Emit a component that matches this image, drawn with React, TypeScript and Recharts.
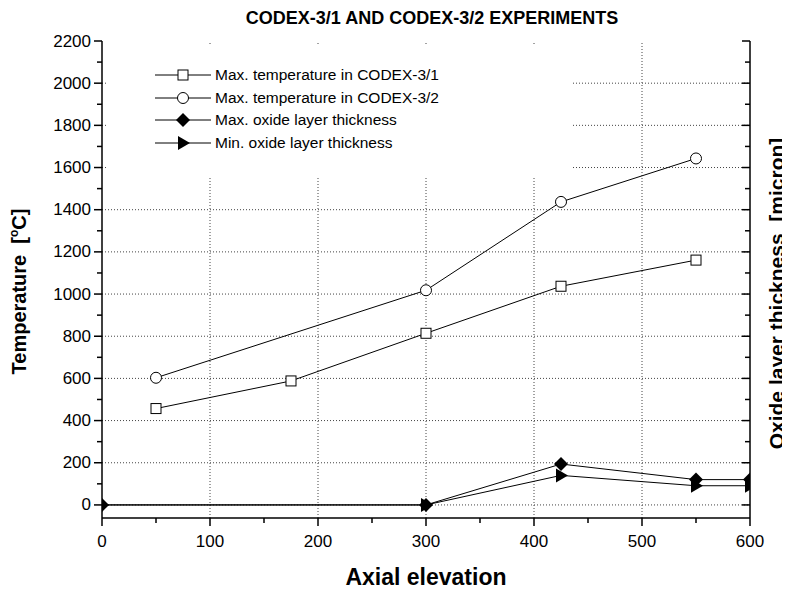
import React from 'react';
import { LineChart, Line, XAxis, YAxis, ReferenceLine } from 'recharts';

// ---- data ----
const sq31X = [50, 175, 300, 425, 550];
const sq31Y = [457, 588, 814, 1037, 1161];
const ci32X = [50, 300, 425, 550];
const ci32Y = [603, 1018, 1437, 1643];
const oxX = [0, 300, 425, 550, 600];
const oxMaxY = [0, 0, 194, 120, 120];
const oxMinY = [0, 0, 140, 91, 91];

const xTicks = [0, 50, 100, 150, 200, 250, 300, 350, 400, 450, 500, 550, 600];
const yTicks = [0, 100, 200, 300, 400, 500, 600, 700, 800, 900, 1000, 1100, 1200, 1300, 1400, 1500, 1600, 1700, 1800, 1900, 2000, 2100, 2200];
const xGrid = [100, 200, 300, 400, 500];
const yGrid = [0, 200, 400, 600, 800, 1000, 1200, 1400, 1600, 1800, 2000];

const legendLabels = [
  'Max. temperature in CODEX-3/1',
  'Max. temperature in CODEX-3/2',
  'Max. oxide layer thickness',
  'Min. oxide layer thickness',
];

const title = 'CODEX-3/1 AND CODEX-3/2 EXPERIMENTS';

const zip = (xs: number[], ys: number[]) => xs.map((x, i) => ({ x, y: ys[i] }));
const d31 = zip(sq31X, sq31Y);
const d32 = zip(ci32X, ci32Y);
const dMax = zip(oxX, oxMaxY);
const dMin = zip(oxX, oxMinY);

const FONT = "Arial, 'Liberation Sans', sans-serif";

// ---- markers ----
const Square = ({ cx, cy }: any) => (
  <rect x={cx - 5} y={cy - 5} width={10} height={10} fill="#fff" stroke="#000" strokeWidth={1} />
);
const Circle = ({ cx, cy }: any) => (
  <circle cx={cx} cy={cy} r={5.5} fill="#fff" stroke="#000" strokeWidth={1} />
);
const Diamond = ({ cx, cy }: any) => (
  <path d={`M${cx},${cy - 7}L${cx + 7},${cy}L${cx},${cy + 7}L${cx - 7},${cy}Z`} fill="#000" />
);
const TriRight = ({ cx, cy }: any) => (
  <path d={`M${cx - 5},${cy - 7}L${cx + 7},${cy}L${cx - 5},${cy + 7}Z`} fill="#000" />
);

const mk = (C: any) => (p: any) => <C key={`${p.index}-${p.cx}`} cx={p.cx} cy={p.cy} />;

// ---- ticks ----
const LeftTick = (props: any) => {
  const { x, y, payload } = props;
  const v = payload.value;
  const major = v % 200 === 0;
  return (
    <g>
      <line x1={x} x2={x - (major ? 8 : 5)} y1={y} y2={y} stroke="#000" strokeWidth={1.5} />
      {major && (
        <text x={x - 11} y={y} textAnchor="end" dominantBaseline="central" fontSize={17} fontFamily={FONT} fill="#000">
          {v}
        </text>
      )}
    </g>
  );
};
const RightTick = (props: any) => {
  const { x, y, payload } = props;
  const major = payload.value % 200 === 0;
  return <line x1={x} x2={x - (major ? 8 : 5)} y1={y} y2={y} stroke="#000" strokeWidth={1.5} />;
};
const BottomTick = (props: any) => {
  const { x, y, payload } = props;
  const v = payload.value;
  const major = v % 100 === 0;
  return (
    <g>
      <line x1={x} x2={x} y1={y} y2={y + (major ? 8 : 5)} stroke="#000" strokeWidth={1.5} />
      {major && (
        <text x={x} y={y + 23} textAnchor="middle" dominantBaseline="central" fontSize={17} fontFamily={FONT} fill="#000">
          {v}
        </text>
      )}
    </g>
  );
};

const legendIcons = [Square, Circle, Diamond, TriRight];

export default function App() {
  return (
    <div style={{ position: 'relative', width: 782, height: 578, fontFamily: FONT }}>
      <LineChart width={782} height={586} data={d31} margin={{ top: 33, right: 0, bottom: 26, left: 34 }}>
        <XAxis
          xAxisId={0}
          dataKey="x"
          type="number"
          domain={[0, 600]}
          ticks={xTicks}
          allowDataOverflow
          height={50}
          tickSize={0}
          tickMargin={0}
          tickLine={false}
          tick={<BottomTick />}
          interval={0}
          axisLine={{ stroke: '#000', strokeWidth: 1.5 }}
          label={(p: any) => {
            const vb = p.viewBox || {};
            return (
              <text x={vb.x + vb.width / 2} y={vb.y + 59} textAnchor="middle" dominantBaseline="central" fontSize={23} fontWeight="bold" fontFamily={FONT} fill="#000">
                Axial elevation
              </text>
            );
          }}
        />
        <XAxis
          xAxisId="top"
          orientation="top"
          dataKey="x"
          type="number"
          domain={[0, 600]}
          height={0}
          tick={false}
          tickLine={false}
          axisLine={{ stroke: '#000', strokeWidth: 1.5 }}
        />
        <YAxis
          yAxisId={0}
          type="number"
          domain={[-62, 2200]}
          ticks={yTicks}
          allowDataOverflow
          interval={0}
          width={60}
          tickSize={0}
          tickMargin={0}
          tickLine={false}
          tick={<LeftTick />}
          axisLine={{ stroke: '#000', strokeWidth: 1.5 }}
          label={(p: any) => {
            const vb = p.viewBox || {};
            const cx = vb.x - 23;
            const cy = vb.y + vb.height / 2 + 12;
            return (
              <text x={cx} y={cy} transform={`rotate(-90 ${cx} ${cy})`} textAnchor="middle" dominantBaseline="central" fontSize={20} fontWeight="bold" fontFamily={FONT} fill="#000">
                Temperature{'\u00a0\u00a0'}[<tspan dy={-5} fontSize={12}>o</tspan><tspan dy={5}>C]</tspan>
              </text>
            );
          }}
        />
        <YAxis
          yAxisId="right"
          orientation="right"
          type="number"
          domain={[-62, 2200]}
          ticks={yTicks}
          allowDataOverflow
          interval={0}
          width={40}
          tickSize={0}
          tickMargin={0}
          tickLine={false}
          tick={<RightTick />}
          axisLine={{ stroke: '#000', strokeWidth: 1.5 }}
          label={(p: any) => {
            const vb = p.viewBox || {};
            const cx = vb.x + 26;
            const cy = vb.y + vb.height / 2 + 14;
            return (
              <text x={cx} y={cy} transform={`rotate(-90 ${cx} ${cy})`} textAnchor="middle" dominantBaseline="central" fontSize={21} fontWeight="bold" fontFamily={FONT} fill="#000">
                Oxide layer thickness{'\u00a0\u00a0'}[micron]
              </text>
            );
          }}
        />
        {xGrid.map((v) => (
          <ReferenceLine key={`gx${v}`} x={v} xAxisId={0} yAxisId={0} stroke="#444" strokeDasharray="1 2" strokeWidth={1} />
        ))}
        {yGrid.map((v) => (
          <ReferenceLine key={`gy${v}`} y={v} xAxisId={0} yAxisId={0} stroke="#444" strokeDasharray="1 2" strokeWidth={1} />
        ))}
        <Line data={dMin} dataKey="y" xAxisId={0} yAxisId={0} stroke="#000" strokeWidth={1} dot={mk(TriRight)} isAnimationActive={false} />
        <Line data={dMax} dataKey="y" xAxisId={0} yAxisId={0} stroke="#000" strokeWidth={1} dot={mk(Diamond)} isAnimationActive={false} />
        <Line data={d31} dataKey="y" xAxisId={0} yAxisId={0} stroke="#000" strokeWidth={1} dot={mk(Square)} isAnimationActive={false} />
        <Line data={d32} dataKey="y" xAxisId={0} yAxisId={0} stroke="#000" strokeWidth={1} dot={mk(Circle)} isAnimationActive={false} />
      </LineChart>
      <div
        style={{
          position: 'absolute',
          left: 174,
          width: 500,
          top: 0,
          lineHeight: '20px',
          textAlign: 'center',
          fontSize: 18,
          fontWeight: 'bold',
          color: '#000',
        }}
      >
        {title}
      </div>
      <div style={{ position: 'absolute', left: 100, top: 37, width: 464, height: 133, background: '#fff' }}>
        {legendLabels.map((lbl, i) => {
          const Icon = legendIcons[i];
          const top = 30 + 22.5 * i - 11;
          return (
            <div key={lbl} style={{ position: 'absolute', left: 47, top, height: 22, display: 'flex', alignItems: 'center' }}>
              <svg width={56} height={22} style={{ display: 'block' }}>
                <line x1={0} x2={56} y1={11} y2={11} stroke="#000" strokeWidth={1} />
                <Icon cx={28} cy={11} />
              </svg>
              <span style={{ marginLeft: 4, fontSize: 15.5, color: '#000', whiteSpace: 'nowrap' }}>{lbl}</span>
            </div>
          );
        })}
      </div>
    </div>
  );
}
